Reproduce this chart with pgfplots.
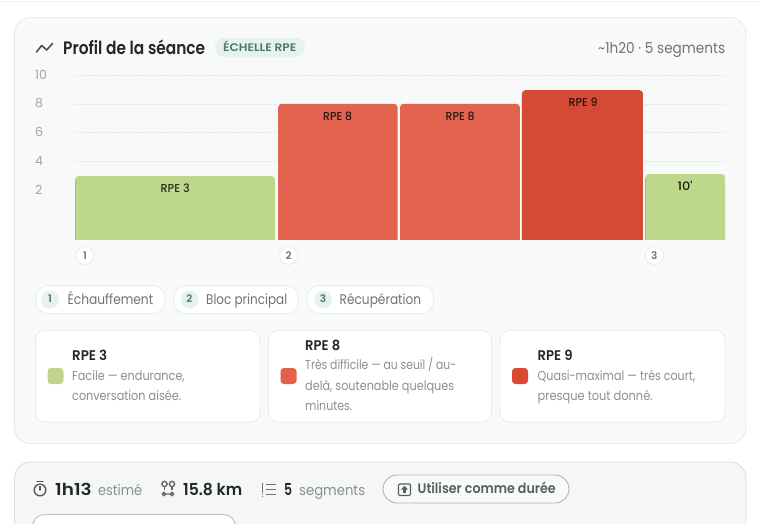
\documentclass[border=0pt]{standalone}
\usepackage{fontspec}
\usepackage{graphicx}
\usepackage{pgfplots}
\pgfplotsset{compat=1.18}
\setmainfont{Poppins}
\newfontfamily\semi{Poppins SemiBold}
\newfontfamily\med{Poppins Medium}
\definecolor{panel}{HTML}{F8FAF9}
\definecolor{panelline}{HTML}{E7ECE9}
\definecolor{panelb}{HTML}{F4F7F6}
\definecolor{panelbline}{HTML}{D9E2DD}
\definecolor{green}{HTML}{BDD88A}
\definecolor{greenedge}{HTML}{A5BC7C}
\definecolor{redA}{HTML}{E2644F}
\definecolor{redB}{HTML}{D44A36}
\definecolor{swG}{HTML}{C0D58A}
\definecolor{swA}{HTML}{E4604A}
\definecolor{swB}{HTML}{DC4A32}
\definecolor{ink}{HTML}{22262A}
\definecolor{grey}{HTML}{8A908D}
\definecolor{greyB}{HTML}{6F7471}
\definecolor{tick}{HTML}{A0A4A2}
\definecolor{grid}{HTML}{E4E8E6}
\definecolor{mint}{HTML}{E6F3EC}
\definecolor{mintink}{HTML}{4A7A60}
\definecolor{btn}{HTML}{565F5A}
% x, baseline y, width, size, colour, font switch, text
\newcommand{\W}[7]{\node[anchor=base west,inner sep=0pt,text=#5] at (#1,#2)
  {\resizebox{#3pt}{\height}{\fontsize{#4pt}{#4pt}\selectfont#6{}#7}};}
\newcommand{\chip}[7]{%
  \draw[draw=panelline,fill=white,line width=.8pt,rounded corners=12pt] (#1,285.5) rectangle (#2,313.5);
  \fill[mint] (#3,299.5) circle (9);
  \node[text=mintink,inner sep=0pt] at (#3,298.5) {\fontsize{10.5}{10.5}\selectfont\semi #4};
  \W{#5}{304.5}{#6}{14}{greyB}{}{#7}}
\newcommand{\card}[3]{%
  \draw[draw=panelline,fill=white,line width=.8pt,rounded corners=9pt] (#1,330.5) rectangle (#2,422);
  \fill[#3,rounded corners=3.5pt] (#1+12,368) rectangle (#1+28,384);}
\begin{document}
\begin{tikzpicture}[x=1pt,y=-1pt]
\useasboundingbox (0,0) rectangle (760,523);
\clip (0,0) rectangle (760,523);
\fill[white] (0,0) rectangle (760,523);
\draw[draw=black!6,line width=.6pt] (0,1) -- (760,1);
% panels
\draw[draw=panelline,fill=panel,line width=.9pt,rounded corners=16pt] (14.5,17.5) rectangle (746,443.5);
\draw[draw=panelbline,fill=panelb,line width=.9pt,rounded corners=16pt] (14.5,462) rectangle (746,560);
% chart
\begin{axis}[
  at={(75pt,-239.5pt)},anchor=south west,
  scale only axis,width=650pt,height=167.4pt,
  xmin=0,xmax=80,ymin=-1.38,ymax=10.2,
  axis line style={draw=none},major tick length=0pt,
  tick style={draw=none},
  ytick={2,4,6,8,10},
  ymajorgrids,
  grid style={draw=grid,line width=.8pt,dash pattern=on 3.5pt off 2.5pt},
  /pgf/number format/assume math mode=true,
  yticklabel style={anchor=west,inner sep=0pt,xshift=-40pt,yshift=.5pt,text=tick,font=\fontsize{12.5}{12.5}\selectfont},
  xtick={1.23,26.28,71.3},xticklabels={1,2,3},
  xticklabel style={anchor=center,yshift=-16pt,circle,draw=panelline,fill=white,line width=.8pt,
    minimum size=18pt,inner sep=0pt,text=greyB,font=\fontsize{10.5}{10.5}\selectfont\semi},
  clip=true,
]
\addplot[fill=green,draw=none,rounded corners=3.5pt] coordinates {(0,-4)(0,3)(24.62,3)(24.62,-4)} --cycle;
\addplot[fill=redA,draw=none,rounded corners=3.5pt] coordinates {(25,-4)(25,8)(39.7,8)(39.7,-4)} --cycle;
\addplot[fill=redA,draw=none,rounded corners=3.5pt] coordinates {(40,-4)(40,8)(54.76,8)(54.76,-4)} --cycle;
\addplot[fill=redB,draw=none,rounded corners=3.5pt] coordinates {(55,-4)(55,8.95)(69.9,8.95)(69.9,-4)} --cycle;
\addplot[fill=green,draw=none,rounded corners=3.5pt] coordinates {(70.2,-4)(70.2,3.15)(80,3.15)(80,-4)} --cycle;
\addplot[draw=greenedge,line width=1pt] coordinates {(0.06,-1.38)(0.06,2.75)};
\addplot[draw=greenedge,line width=1pt] coordinates {(70.26,-1.38)(70.26,2.9)};
\end{axis}
% bar labels
\W{160.5}{192}{29}{11.5}{black!80!green}{\med}{RPE 3}
\W{323}{120}{29}{11.5}{black!80!redA}{\med}{RPE 8}
\W{445.5}{120}{29}{11.5}{black!80!redA}{\med}{RPE 8}
\W{568.5}{106.5}{29}{11.5}{black!80!redB}{\med}{RPE 9}
\W{677.5}{190}{15}{11.5}{black!85!green}{\med}{10'}
% header
\draw[draw=black!72,line width=1.5pt,line join=round,line cap=round] (36.5,52) -- (41.7,45.5) -- (46.7,50) -- (52.5,43.5);
\W{63}{54}{142}{18}{ink}{\semi}{Profil de la séance}
\fill[mint,rounded corners=9pt] (215,38) rectangle (305,57);
\W{223}{51.5}{73}{11}{mintink}{\semi}{ÉCHELLE RPE}
\W{598}{53}{127}{15}{greyB}{}{\textasciitilde 1h20 · 5 segments}
% chips
\chip{36}{165}{50}{1}{67.5}{85.5}{Échauffement}
\chip{173.5}{298.5}{189.5}{2}{206}{81}{Bloc principal}
\chip{307}{433.5}{323}{3}{339.5}{81.5}{Récupération}
% cards
\card{35.5}{260}{swG}
\card{268.5}{491.5}{swA}
\card{500}{725}{swB}
\W{72}{360}{35}{14}{ink}{\semi}{RPE 3}
\W{72}{380.5}{112.5}{13}{grey}{}{Facile — endurance,}
\W{72}{400.5}{109}{13}{grey}{}{conversation aisée.}
\W{305}{350}{35}{14}{ink}{\semi}{RPE 8}
\W{305}{369.5}{151}{13}{grey}{}{Très difficile — au seuil / au-}
\W{305}{390.5}{149}{13}{grey}{}{delà, soutenable quelques}
\W{305}{410.5}{47}{13}{grey}{}{minutes.}
\W{537.5}{360}{35}{14}{ink}{\semi}{RPE 9}
\W{537.5}{380.5}{157.5}{13}{grey}{}{Quasi-maximal — très court,}
\W{537.5}{400.5}{115}{13}{grey}{}{presque tout donné.}
% stat line
\draw[draw=black!65,line width=1.4pt] (40,490) circle (5.8);
\draw[draw=black!65,line width=1.3pt,line cap=round] (37,481.5) -- (43,481.5) (40,490) -- (40,486.5);
\W{55}{495}{36.5}{16.5}{ink}{\semi}{1h13}
\W{98}{495}{44}{14.5}{grey}{}{estimé}
% route icon
\draw[draw=black!60,line width=1.4pt] (164.5,484) circle (2.6) (172,484) circle (2.6) (164,494) circle (1.7) (172,494) circle (1.7) (165.7,494) -- (170.3,494);
\draw[draw=black!60,line width=1.4pt] (164.5,487) -- (164.5,490) (172,487) -- (172,490);
\W{183}{495}{59}{16.5}{ink}{\semi}{15.8 km}
% list icon
\draw[draw=black!55,line width=1.2pt] (266,484.5) -- (276,484.5) (266,489.5) -- (276,489.5) (266,494.5) -- (276,494.5);
\draw[draw=black!55,line width=1.1pt,dash pattern=on 1.5pt off .6pt] (262.5,483) -- (262.5,496);
\W{284}{495}{8}{16.5}{ink}{\semi}{5}
\W{299}{495}{66}{14.5}{grey}{}{segments}
% button
\draw[draw=black!30,fill=panel,line width=.9pt,rounded corners=14pt] (383,475) rectangle (569,503);
\draw[draw=btn,line width=1.1pt,rounded corners=1.2pt] (398.5,484) rectangle (410.5,495.5);
\fill[btn] (404.5,485.8) -- (408,489.6) -- (405.8,489.6) -- (405.8,493) -- (403.2,493) -- (403.2,489.6) -- (401,489.6) -- cycle;
\W{417.5}{493.5}{138}{14}{btn}{\semi}{Utiliser comme durée}
% partial box
\draw[draw=black!25,fill=white,line width=.9pt,rounded corners=12pt] (32.5,514.5) rectangle (235.5,560);
\end{tikzpicture}
\end{document}
